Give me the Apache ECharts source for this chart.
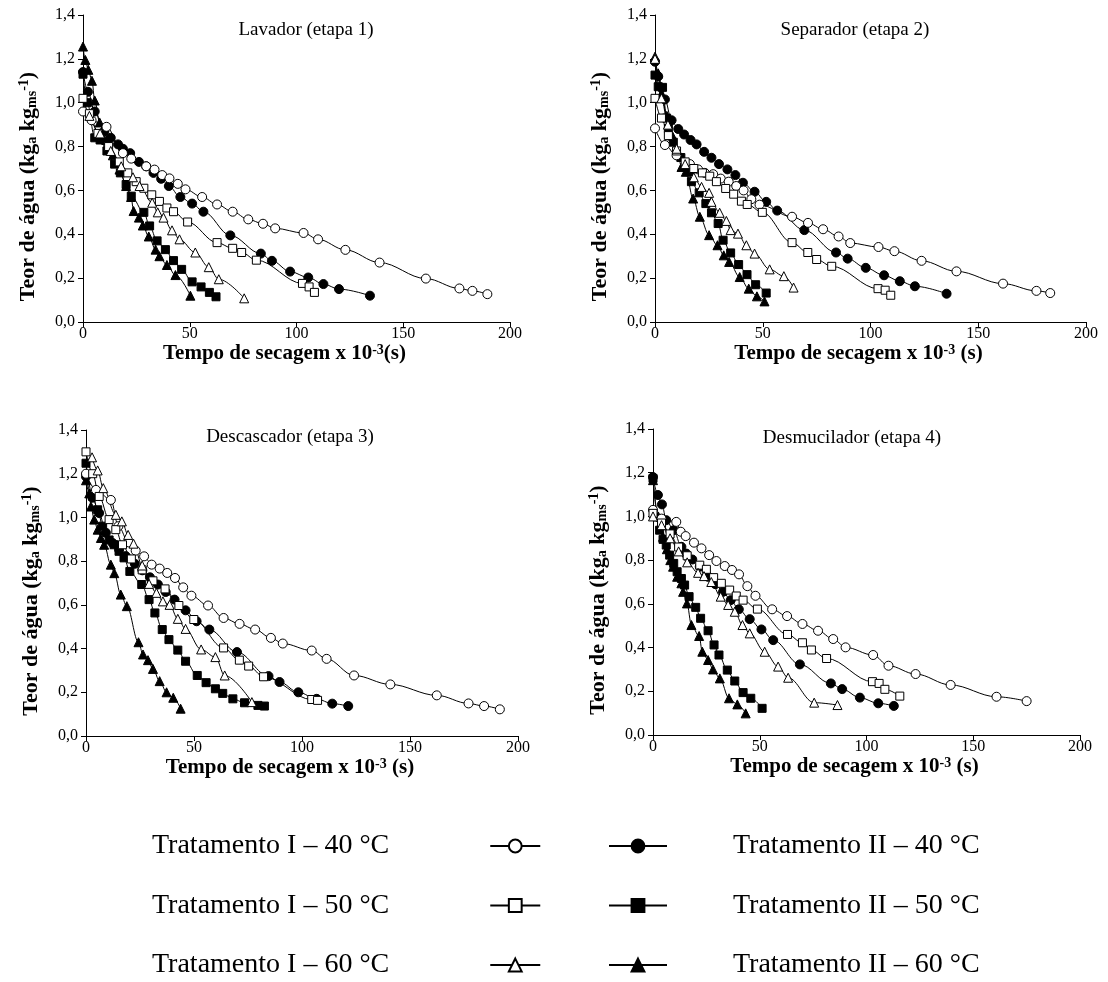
<!DOCTYPE html>
<html>
<head>
<meta charset="utf-8">
<script src="https://cdn.jsdelivr.net/npm/echarts@6/dist/echarts.min.js"></script>
<style>
html,body{margin:0;padding:0;background:#fff;}
#chart{width:1108px;height:982px;}
</style>
</head>
<body>
<div id="chart"></div>
<script>
// ---------- text / categories ----------
const panelTitles = ['Lavador (etapa 1)', 'Separador (etapa 2)', 'Descascador (etapa 3)', 'Desmucilador (etapa 4)'];
const seriesNames = ['Tratamento I – 40 °C', 'Tratamento I – 50 °C', 'Tratamento I – 60 °C',
                     'Tratamento II – 40 °C', 'Tratamento II – 50 °C', 'Tratamento II – 60 °C'];
const yTickLabels = ['0,0', '0,2', '0,4', '0,6', '0,8', '1,0', '1,2', '1,4'];
const xTickLabels = ['0', '50', '100', '150', '200'];

// ---------- data: [time x 10^-3 s, water content kg/kg] ----------
// Lavador (etapa 1)
const lav_I40 = [[0,0.96],[4,0.92],[11,0.89],[18.7,0.77],[22.6,0.745],[29.6,0.71],[33.5,0.695],[37.1,0.67],[40.5,0.655],[44.4,0.63],[48,0.605],[55.8,0.57],[62.8,0.536],[70.1,0.503],[77.4,0.468],[84.3,0.448],[90,0.427],[103.3,0.406],[110.1,0.377],[122.9,0.329],[138.9,0.271],[160.6,0.198],[176.3,0.153],[182.4,0.142],[189.4,0.127]];
const lav_I50 = [[0,1.02],[3,0.95],[7,0.86],[12,0.8],[17,0.73],[21,0.68],[24.9,0.64],[28.5,0.61],[32.2,0.58],[35.8,0.55],[39.3,0.52],[42.4,0.503],[49,0.456],[62.8,0.362],[70.1,0.336],[74.3,0.317],[81.2,0.282],[102.8,0.176],[105.9,0.16],[108.4,0.135]];
const lav_I60 = [[3,0.94],[8,0.86],[13,0.78],[17.9,0.71],[23.4,0.66],[26.5,0.62],[32.4,0.544],[35,0.5],[37.7,0.476],[41.7,0.418],[45.2,0.377],[52.6,0.317],[58.9,0.25],[63.6,0.195],[75.5,0.108]];
const lav_II40 = [[0,1.14],[2.3,1.05],[5.5,0.96],[10,0.87],[13,0.84],[16.4,0.81],[18.7,0.79],[22.1,0.77],[26.2,0.73],[29.6,0.71],[33,0.68],[36.6,0.653],[40.2,0.62],[45.6,0.57],[51.1,0.54],[56.4,0.503],[69,0.395],[83.3,0.312],[88.5,0.279],[97,0.23],[105.5,0.203],[112.6,0.173],[119.9,0.15],[134.4,0.12]];
const lav_II50 = [[0,1.13],[2,1.0],[5.5,0.84],[8,0.83],[11.2,0.78],[14.8,0.72],[17.5,0.68],[20.2,0.627],[22.6,0.574],[28.5,0.5],[31.2,0.438],[34.7,0.37],[38.6,0.33],[42.4,0.28],[46.2,0.24],[51.1,0.183],[55.3,0.16],[59.2,0.135],[62.3,0.115]];
const lav_II60 = [[0,1.256],[1.1,1.195],[2.5,1.15],[4.2,1.1],[5.5,1.01],[7.8,0.91],[10.9,0.83],[14,0.76],[17.1,0.695],[20.2,0.62],[22.5,0.57],[23.7,0.506],[26.2,0.476],[28,0.44],[30.8,0.39],[34,0.33],[35.8,0.3],[39.3,0.26],[43.3,0.214],[50.3,0.12]];
// Separador (etapa 2)
const sep_I40 = [[0,0.883],[4.6,0.807],[10,0.76],[16.2,0.72],[20,0.696],[23.1,0.68],[27,0.674],[30.5,0.654],[34.2,0.64],[37.7,0.62],[41.1,0.6],[44.7,0.56],[48.5,0.535],[63.6,0.48],[71,0.452],[78,0.423],[85.2,0.39],[90.6,0.36],[103.7,0.342],[111.1,0.323],[123.7,0.279],[139.9,0.231],[161.5,0.175],[177,0.142],[183.4,0.132]];
const sep_I50 = [[0,1.02],[3,0.93],[6.2,0.85],[10,0.78],[14,0.73],[18,0.7],[22,0.68],[25.4,0.665],[28.5,0.64],[32.8,0.609],[36.5,0.583],[40.1,0.551],[42.8,0.536],[49.8,0.5],[63.6,0.362],[70.9,0.317],[75,0.285],[82,0.254],[103.5,0.152],[106.8,0.145],[109.4,0.122]];
const sep_I60 = [[0,1.2],[3,1.02],[6,0.9],[10,0.79],[14,0.72],[18,0.66],[21.6,0.616],[25.1,0.589],[26.2,0.548],[30,0.498],[33.1,0.461],[35.1,0.419],[38.5,0.403],[42.4,0.35],[46.2,0.312],[53.2,0.24],[59.8,0.209],[64.3,0.157]];
const sep_II40 = [[0,1.187],[1.5,1.12],[4.6,1.015],[7.7,0.92],[10.8,0.88],[13.5,0.855],[16.5,0.83],[19.3,0.81],[22.8,0.776],[26.2,0.749],[29.7,0.72],[33.6,0.696],[37.3,0.67],[40.8,0.635],[46.2,0.594],[51.6,0.548],[56.7,0.508],[69.3,0.419],[84,0.317],[89.4,0.289],[97.8,0.247],[106.3,0.213],[113.6,0.186],[120.6,0.163],[135.3,0.129]];
const sep_II50 = [[0,1.126],[1.5,1.073],[3.5,1.07],[5.4,0.93],[6.2,0.883],[8.5,0.82],[12,0.75],[16.2,0.685],[16.9,0.64],[20.5,0.589],[23.6,0.54],[26.2,0.498],[29.3,0.449],[31.6,0.373],[35.1,0.315],[38.8,0.262],[42.7,0.216],[46.7,0.17],[51.6,0.132]];
const sep_II60 = [[0,1.21],[1.5,1.134],[3,1.04],[5.5,0.94],[8,0.85],[10.5,0.77],[12.3,0.707],[14.3,0.685],[17.7,0.563],[20.8,0.48],[25.1,0.396],[29,0.35],[31.9,0.304],[34.4,0.274],[39.3,0.205],[43.5,0.152],[47.3,0.117],[50.8,0.094]];
// Descascador (etapa 3)
const des_I40 = [[0,1.2],[4.6,1.126],[11.5,1.08],[15,0.96],[19.7,0.886],[23,0.848],[26.9,0.822],[30.4,0.784],[34.1,0.766],[37.6,0.746],[41.2,0.723],[45,0.68],[48.8,0.642],[56.5,0.597],[63.7,0.54],[71.1,0.513],[78.3,0.487],[85.6,0.449],[91.1,0.423],[104.5,0.391],[111.4,0.353],[124.1,0.277],[140.9,0.236],[162.4,0.186],[177.1,0.149],[184.3,0.137],[191.6,0.122]];
const des_I50 = [[0,1.3],[3.1,1.2],[6.1,1.096],[10.7,0.99],[13.8,0.944],[16.9,0.875],[21,0.81],[26,0.76],[31,0.71],[36.6,0.673],[43,0.597],[49.9,0.533],[63.7,0.403],[71,0.347],[75.3,0.32],[82.2,0.271],[104.5,0.167],[107.2,0.163]];
const des_I60 = [[2.8,1.275],[5.4,1.215],[8,1.134],[13.8,1.012],[16.6,0.982],[19.5,0.92],[22,0.88],[26,0.78],[29.2,0.696],[32.6,0.655],[35.6,0.616],[38.7,0.6],[42.5,0.536],[46.1,0.49],[53.3,0.396],[59.9,0.361],[64.2,0.277],[76.8,0.155]];
const des_II40 = [[0,1.187],[3,1.09],[6.1,1.02],[9.2,0.93],[12.3,0.883],[15.3,0.853],[18.4,0.823],[22.6,0.788],[26.1,0.758],[29.6,0.726],[33.3,0.693],[36.9,0.659],[41,0.624],[46.1,0.575],[51.2,0.525],[57.1,0.487],[69.9,0.384],[84.5,0.274],[89.6,0.247],[98.3,0.2],[106.8,0.17],[114,0.148],[121.4,0.137]];
const des_II50 = [[0,1.248],[3.1,1.096],[5.4,1.035],[7.7,0.96],[10.7,0.897],[13,0.875],[15.3,0.845],[17.6,0.815],[20.3,0.753],[25.8,0.693],[29.2,0.624],[31.9,0.563],[35.3,0.487],[38.4,0.441],[42.5,0.393],[46.1,0.342],[51.5,0.277],[55.6,0.244],[59.9,0.216],[63.3,0.195],[68,0.17],[73.4,0.152],[79.6,0.14],[82.6,0.137]];
const des_II60 = [[0,1.17],[1.5,1.11],[2.3,1.05],[3.8,0.99],[5.4,0.944],[6.9,0.906],[8.4,0.875],[11.5,0.784],[13.1,0.745],[16.1,0.647],[18.9,0.594],[24.3,0.429],[26.4,0.373],[28.7,0.347],[31,0.307],[34.1,0.251],[37.3,0.2],[40.4,0.175],[43.8,0.125]];
// Desmucilador (etapa 4)
const dem_I40 = [[0,1.03],[4,0.99],[10.9,0.975],[13,0.93],[15.3,0.91],[19.2,0.88],[22.7,0.854],[26.3,0.823],[29.7,0.796],[33.6,0.773],[37,0.755],[40.3,0.735],[44.2,0.681],[48,0.637],[55.8,0.575],[62.8,0.544],[70,0.508],[77.3,0.477],[84.4,0.439],[90.2,0.401],[103.1,0.366],[110.3,0.317],[123,0.279],[139.4,0.229],[160.9,0.175],[175,0.155]];
const dem_I50 = [[0,1.014],[4,0.97],[8,0.92],[12,0.86],[16,0.82],[21.9,0.777],[25,0.758],[28.4,0.72],[32,0.694],[35.9,0.663],[39,0.636],[42.2,0.617],[48.9,0.576],[63,0.46],[70,0.422],[74.2,0.389],[81.3,0.35],[102.8,0.244],[105.9,0.236],[108.6,0.209],[115.6,0.178]];
const dem_I60 = [[0,1.0],[4,0.96],[8,0.9],[12,0.84],[16,0.79],[21.1,0.742],[23.9,0.727],[27.3,0.7],[31.7,0.633],[35.2,0.595],[38.3,0.564],[41.9,0.503],[45.3,0.465],[52.3,0.381],[58.6,0.313],[63.3,0.262],[75.5,0.148],[86.4,0.137]];
const dem_II40 = [[0,1.18],[2.3,1.098],[4.2,1.055],[6.2,0.983],[9.7,0.937],[13.3,0.861],[15.6,0.83],[18.4,0.803],[21.9,0.77],[25.8,0.724],[29.2,0.69],[32.8,0.655],[36.4,0.617],[40.2,0.575],[45.3,0.53],[50.8,0.483],[56.3,0.434],[68.8,0.323],[83.3,0.236],[88.6,0.21],[96.9,0.171],[105.5,0.145],[112.8,0.133]];
const dem_II50 = [[0,1.174],[3.1,0.937],[4.7,0.895],[6.2,0.869],[7.8,0.823],[9.7,0.785],[11.3,0.747],[13.3,0.716],[14.8,0.686],[16.9,0.633],[20,0.584],[22.3,0.534],[25.8,0.477],[28.6,0.412],[30.9,0.366],[34.8,0.297],[38.3,0.247],[42.2,0.194],[45.8,0.168],[51.1,0.122]];
const dem_II60 = [[0,1.166],[2.5,1.0],[4.7,0.907],[6.5,0.85],[8.1,0.8],[9.4,0.77],[11.3,0.724],[13.3,0.694],[14.1,0.655],[15.9,0.602],[18,0.503],[21.6,0.453],[23.1,0.381],[25.8,0.343],[28.1,0.3],[31.3,0.259],[35.6,0.168],[39.5,0.14],[43.4,0.099]];

const panelData = [
  [lav_I40, lav_I50, lav_I60, lav_II40, lav_II50, lav_II60],
  [sep_I40, sep_I50, sep_I60, sep_II40, sep_II50, sep_II60],
  [des_I40, des_I50, des_I60, des_II40, des_II50, des_II60],
  [dem_I40, dem_I50, dem_I60, dem_II40, dem_II50, dem_II60]
];

// ---------- styling ----------
const FONT = '"Liberation Serif", "Times New Roman", serif';
const symbolTypes = ['circle', 'rect', 'triangle', 'circle', 'rect', 'triangle'];
const symbolSizes = [9, 8, 9, 9, 8, 9];
const hollow = [true, true, true, false, false, false];

const grids = [
  {left: 83, top: 15, width: 427, height: 307},
  {left: 655, top: 15, width: 431, height: 307},
  {left: 86, top: 430, width: 432, height: 306},
  {left: 653, top: 429, width: 427, height: 306}
];
const titlePos = [[306, 21], [855, 21], [290, 428], [852, 429]];
const xNames = ['Tempo de secagem x 10{s|-3}(s)', 'Tempo de secagem x 10{s|-3} (s)',
                'Tempo de secagem x 10{s|-3} (s)', 'Tempo de secagem x 10{s|-3} (s)'];

const richSS = {
  s: {fontFamily: FONT, fontWeight: 'bold', fontSize: 14, verticalAlign: 'top', lineHeight: 14, color: '#000'},
  b: {fontFamily: FONT, fontWeight: 'bold', fontSize: 14, verticalAlign: 'bottom', lineHeight: 14, color: '#000'}
};

const xAxes = grids.map((g, i) => ({
  type: 'value', gridIndex: i, min: 0, max: 200, interval: 50,
  name: xNames[i], nameLocation: 'middle', nameGap: 10,
  nameTextStyle: {fontFamily: FONT, fontWeight: 'bold', fontSize: 21, color: '#000', lineHeight: 22,
                  padding: [0, 24, 0, 0], rich: richSS},
  axisLine: {show: true, lineStyle: {color: '#000', width: 1}},
  axisTick: {show: true, inside: false, length: 5, lineStyle: {color: '#000'}},
  axisLabel: {fontFamily: FONT, fontSize: 16, color: '#000', margin: 4,
              formatter: v => xTickLabels[Math.round(v / 50)]},
  splitLine: {show: false}
}));
const yAxes = grids.map((g, i) => ({
  type: 'value', gridIndex: i, min: 0, max: 1.4, interval: 0.2,
  name: 'Teor de água (kg{b|a} kg{b|ms}{s|-1})', nameLocation: 'middle', nameRotate: 90, nameGap: 44,
  nameTextStyle: {fontFamily: FONT, fontWeight: 'bold', fontSize: 22, color: '#000', lineHeight: 22,
                  padding: [0, 36, 0, 0], rich: richSS},
  axisLine: {show: true, lineStyle: {color: '#000', width: 1}},
  axisTick: {show: true, inside: false, length: 5, lineStyle: {color: '#000'}},
  axisLabel: {fontFamily: FONT, fontSize: 16, color: '#000', margin: 8,
              formatter: v => yTickLabels[Math.round(v / 0.2)]},
  splitLine: {show: false}
}));

const series = [];
panelData.forEach((sets, p) => {
  sets.forEach((d, k) => {
    series.push({
      type: 'line', name: seriesNames[k], xAxisIndex: p, yAxisIndex: p,
      data: d, smooth: 0.35, smoothMonotone: 'x',
      symbol: symbolTypes[k], symbolSize: symbolSizes[k], showAllSymbol: true,
      lineStyle: {color: '#000', width: 1},
      itemStyle: hollow[k] ? {color: '#fff', borderColor: '#000', borderWidth: 1}
                           : {color: '#000', borderColor: '#000', borderWidth: 1},
      emphasis: {disabled: true},
      z: hollow[k] ? 3 : 2
    });
  });
});

const titles = panelTitles.map((t, i) => ({
  text: t, left: titlePos[i][0], top: titlePos[i][1], textAlign: 'center', padding: 0,
  textStyle: {fontFamily: FONT, fontWeight: 'normal', fontSize: 19, color: '#000'}
}));

const legendText = {fontFamily: FONT, fontSize: 28, color: '#000', lineHeight: 30};
const option = {
  animation: false,
  backgroundColor: '#fff',
  title: titles,
  grid: grids,
  xAxis: xAxes,
  yAxis: yAxes,
  legend: [
    {data: seriesNames.slice(0, 3), orient: 'vertical', left: 147, top: 826, height: 200, align: 'right',
     itemWidth: 50, itemHeight: 16, itemGap: 29.5, selectedMode: false,
     lineStyle: {width: 2, color: '#000'},
     textStyle: Object.assign({}, legendText, {padding: [0, 96, 0, 0]})},
    {data: seriesNames.slice(3, 6), orient: 'vertical', left: 603, top: 826, height: 200, align: 'left',
     itemWidth: 58, itemHeight: 16, itemGap: 29.5, selectedMode: false,
     lineStyle: {width: 2, color: '#000'},
     textStyle: Object.assign({}, legendText, {padding: [0, 0, 0, 61]})}
  ],
  series: series
};

const chart = echarts.init(document.getElementById('chart'), null, {renderer: 'canvas'});
chart.setOption(option);
</script>
</body>
</html>
